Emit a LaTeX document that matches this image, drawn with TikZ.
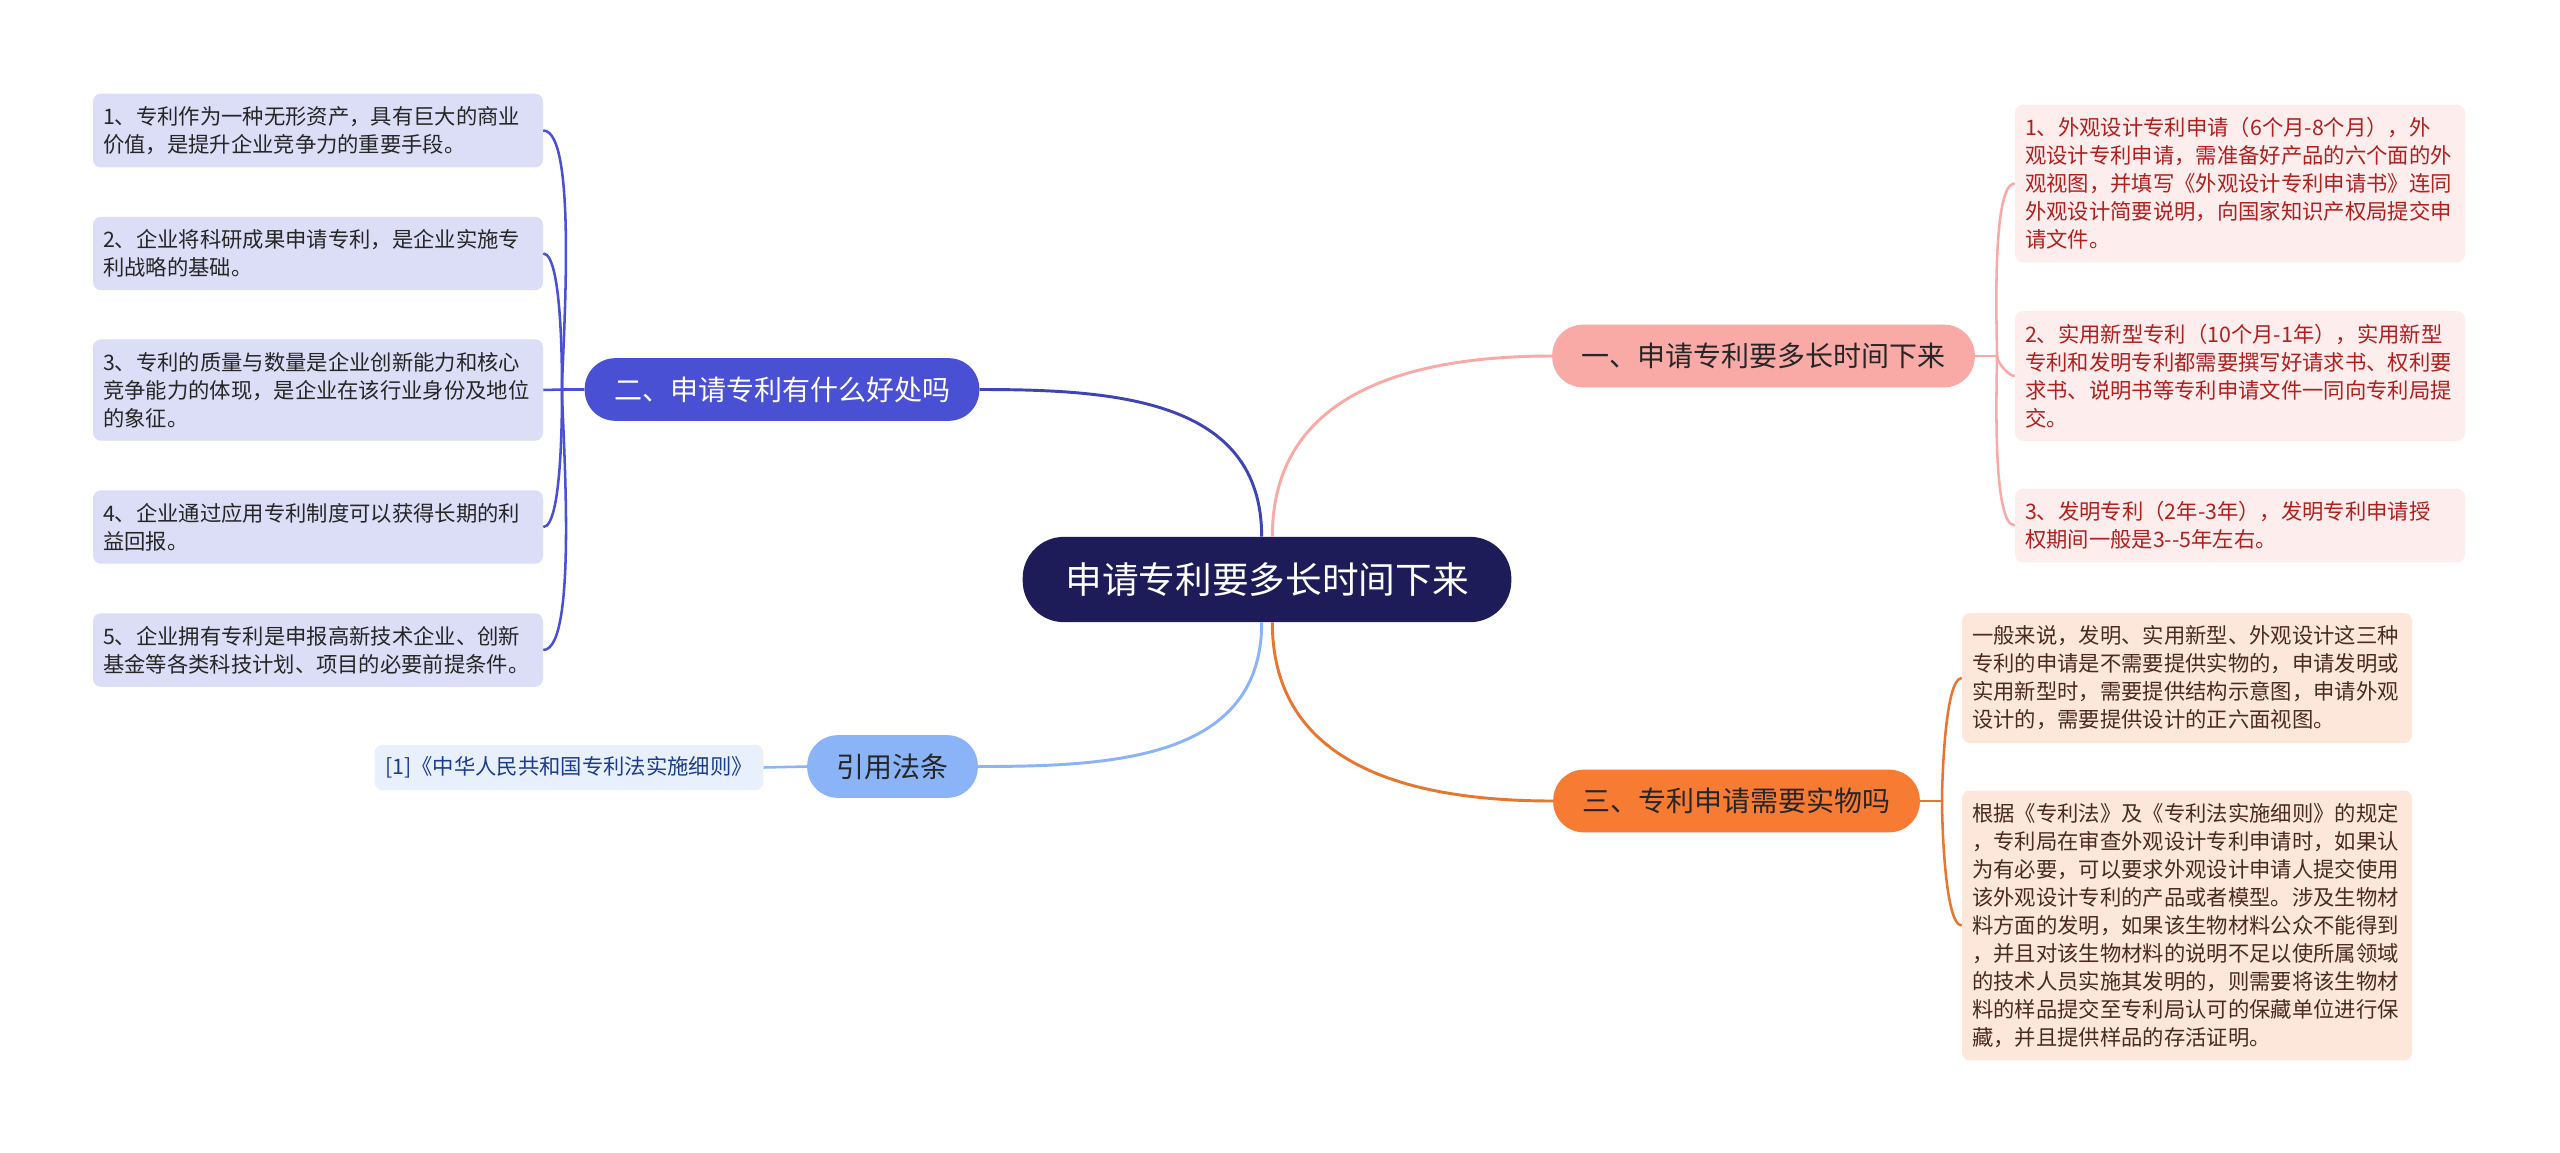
\documentclass[tikz,border=0pt]{standalone}
\usepackage{fontspec}
\setmainfont{Noto Sans CJK SC}
\definecolor{rootfill}{HTML}{1D1B58}
\definecolor{onefill}{HTML}{F9AAA7}
\definecolor{oneleaf}{HTML}{FDEDED}
\definecolor{onetext}{HTML}{B0201E}
\definecolor{twofill}{HTML}{4A50D4}
\definecolor{twoleaf}{HTML}{DCDDF7}
\definecolor{threefill}{HTML}{F77B32}
\definecolor{threeline}{HTML}{E9762F}
\definecolor{threeleaf}{HTML}{FDE6DA}
\definecolor{threetext}{HTML}{4A2C1E}
\definecolor{citefill}{HTML}{8AB4F7}
\definecolor{citeleaf}{HTML}{E8F0FD}
\definecolor{citetext}{HTML}{1B3D8C}
\tikzset{
  rootbox/.style={fill=rootfill, text=white, rounded corners=31pt, minimum height=64pt,
    inner xsep=32pt, font=\fontsize{27.5}{33}\selectfont},
  branch/.style={rounded corners=23pt, minimum height=47pt, inner xsep=22pt,
    text=black!85, font=\fontsize{21}{25}\selectfont},
  leaf/.style={rounded corners=6pt, inner xsep=7.5pt, inner ysep=9.6pt, text width=322.5pt,
    align=left, font=\fontsize{16}{21}\selectfont},
  link/.style={line width=2.2pt},
  twig/.style={line width=1.9pt}
}
\begin{document}
\begin{tikzpicture}[x=0.75pt,y=0.75pt]
            \fill[white] (0,0) rectangle (2560,-1153);
            \useasboundingbox (0,0) rectangle (2560,-1153);

            % Root
            \node[rootbox] (root) at (1267,-579.5) {申请专利要多长时间下来};

            % Branch 1: how long it takes (right, top)
            \node[branch, fill=onefill] (b1) at (1763.5,-356) {一、申请专利要多长时间下来};
            \node[leaf, fill=oneleaf, text=onetext] (r1) at (2240,-183.5) {1、外观设计专利申请（6个月-8个月），外\\观设计专利申请，需准备好产品的六个面的外\\观视图，并填写《外观设计专利申请书》连同\\外观设计简要说明，向国家知识产权局提交申\\请文件。};
            \node[leaf, fill=oneleaf, text=onetext] (r2) at (2240,-376) {2、实用新型专利（10个月-1年），实用新型\\专利和发明专利都需要撰写好请求书、权利要\\求书、说明书等专利申请文件一同向专利局提\\交。};
            \node[leaf, fill=oneleaf, text=onetext] (r3) at (2240,-525.5) {3、发明专利（2年-3年），发明专利申请授\\权期间一般是3-{}-5年左右。};
            \coordinate (s1) at (1997,-356);
            \draw[link, onefill] ([xshift=4pt]root.north) to[out=90,in=180,looseness=1.1] (b1.west);
            \draw[twig, onefill] (b1.east) -- (s1);
            \draw[twig, onefill] (s1) to[out=90,in=180,looseness=0.35] (r1.west);
            \draw[twig, onefill] (s1) to[out=-90,in=180,looseness=0.6] (r2.west);
            \draw[twig, onefill] (s1) to[out=-90,in=180,looseness=0.35] (r3.west);

            % Branch 2: what good it does (left, top)
            \node[branch, fill=twofill, text=white] (b2) at (782,-389.5) {二、申请专利有什么好处吗};
            \node[leaf, fill=twoleaf, text=black!85] (l1) at (318,-130.5) {1、专利作为一种无形资产，具有巨大的商业\\价值，是提升企业竞争力的重要手段。};
            \node[leaf, fill=twoleaf, text=black!85] (l2) at (318,-253.5) {2、企业将科研成果申请专利，是企业实施专\\利战略的基础。};
            \node[leaf, fill=twoleaf, text=black!85] (l3) at (318,-390) {3、专利的质量与数量是企业创新能力和核心\\竞争能力的体现，是企业在该行业身份及地位\\的象征。};
            \node[leaf, fill=twoleaf, text=black!85] (l4) at (318,-527) {4、企业通过应用专利制度可以获得长期的利\\益回报。};
            \node[leaf, fill=twoleaf, text=black!85] (l5) at (318,-650) {5、企业拥有专利是申报高新技术企业、创新\\基金等各类科技计划、项目的必要前提条件。};
            \coordinate (s2) at (562,-389.5);
            \draw[link, twofill!85!black] ([xshift=-4pt]root.north) to[out=90,in=0,looseness=1.1] (b2.east);
            \draw[twig, twofill] (b2.west) -- (s2) -- (l3.east);
            \draw[twig, twofill] (s2) to[out=90,in=0,looseness=0.35] (l1.east);
            \draw[twig, twofill] (s2) to[out=90,in=0,looseness=0.35] (l2.east);
            \draw[twig, twofill] (s2) to[out=-90,in=0,looseness=0.35] (l4.east);
            \draw[twig, twofill] (s2) to[out=-90,in=0,looseness=0.35] (l5.east);

            % Branch 3: is a physical object needed (right, bottom)
            \node[branch, fill=threefill] (b3) at (1736.5,-801) {三、专利申请需要实物吗};
            \node[leaf, fill=threeleaf, text=threetext] (t1) at (2187,-678) {一般来说，发明、实用新型、外观设计这三种\\专利的申请是不需要提供实物的，申请发明或\\实用新型时，需要提供结构示意图，申请外观\\设计的，需要提供设计的正六面视图。};
            \node[leaf, fill=threeleaf, text=threetext] (t2) at (2187,-925.5) {根据《专利法》及《专利法实施细则》的规定\\，专利局在审查外观设计专利申请时，如果认\\为有必要，可以要求外观设计申请人提交使用\\该外观设计专利的产品或者模型。涉及生物材\\料方面的发明，如果该生物材料公众不能得到\\，并且对该生物材料的说明不足以使所属领域\\的技术人员实施其发明的，则需要将该生物材\\料的样品提交至专利局认可的保藏单位进行保\\藏，并且提供样品的存活证明。};
            \coordinate (s3) at (1942,-801);
            \draw[link, threeline] ([xshift=4pt]root.south) to[out=-90,in=180,looseness=1.1] (b3.west);
            \draw[twig, threeline] (b3.east) -- (s3);
            \draw[twig, threeline] (s3) to[out=90,in=180,looseness=0.35] (t1.west);
            \draw[twig, threeline] (s3) to[out=-90,in=180,looseness=0.35] (t2.west);

            % Branch 4: cited law (left, bottom)
            \node[branch, fill=citefill] (b4) at (892.5,-766.5) {引用法条};
            \node[leaf, fill=citeleaf, text=citetext, text width=, inner xsep=7.9pt, inner ysep=8.9pt] (c1) at (569,-767.5) {[1]《中华人民共和国专利法实施细则》};
            \draw[link, citefill] ([xshift=-4pt]root.south) to[out=-90,in=0,looseness=1.1] (b4.east);
            \draw[twig, citefill] (b4.west) -- (c1.east);
\end{tikzpicture}
\end{document}
